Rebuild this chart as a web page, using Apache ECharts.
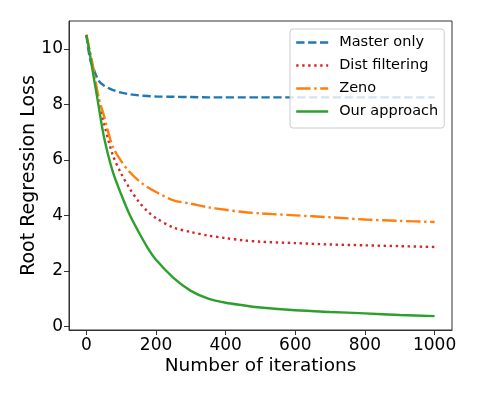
<!doctype html>
<html>
<head>
<meta charset="UTF-8">
<title>Root Regression Loss</title>
<script src="https://cdn.jsdelivr.net/npm/echarts@6/dist/echarts.min.js"></script>
<style>
  html, body { margin: 0; padding: 0; background: #ffffff; }
  #chart { width: 478px; height: 399px; }
</style>
</head>
<body>
<div id="chart"></div>
<script>
var iterations = [0, 10, 20, 35, 50, 75, 100, 125, 150, 175, 200, 250, 300, 350, 400, 450, 500, 600, 700, 800, 900, 1000];

var masterOnly   = [10.5, 9.65, 9.3, 8.85, 8.68, 8.52, 8.42, 8.36, 8.32, 8.3, 8.28, 8.27, 8.26, 8.25, 8.25, 8.25, 8.25, 8.25, 8.25, 8.25, 8.25, 8.25];
var distFilter   = [10.5, 9.85, 9.2, 8.2, 7.35, 6.2, 5.5, 4.95, 4.5, 4.15, 3.9, 3.56, 3.4, 3.27, 3.18, 3.1, 3.05, 3.0, 2.95, 2.92, 2.89, 2.86];
var zeno         = [10.5, 9.9, 9.3, 8.25, 7.6, 6.5, 5.95, 5.55, 5.25, 5.02, 4.84, 4.54, 4.42, 4.29, 4.2, 4.12, 4.07, 4.0, 3.93, 3.85, 3.8, 3.76];
var ourApproach  = [10.5, 9.8, 9.05, 7.95, 6.85, 5.6, 4.75, 4.0, 3.4, 2.85, 2.4, 1.75, 1.28, 1.0, 0.85, 0.76, 0.68, 0.58, 0.52, 0.47, 0.41, 0.37];

var seriesNames = ['Master only', 'Dist filtering', 'Zeno', 'Our approach'];
var xTicks = [0, 200, 400, 600, 800, 1000];
var yTicks = [0, 2, 4, 6, 8, 10];

var FONT = 'DejaVu Sans';
var colors = ['#1f77b4', '#d62728', '#ff7f0e', '#2ca02c'];
var dashes = [[8.3, 3.6], [2.4, 3.6], [14.4, 3.6, 2.4, 3.6], 'solid'];
var values = [masterOnly, distFilter, zeno, ourApproach];

function pairs(ys) {
  var out = [];
  for (var i = 0; i < iterations.length; i++) {
    out.push([iterations[i], ys[i]]);
  }
  return out;
}

var series = [];
for (var s = 0; s < seriesNames.length; s++) {
  series.push({
    name: seriesNames[s],
    type: 'line',
    data: pairs(values[s]),
    smooth: 0.3,
    symbol: 'none',
    lineStyle: { color: colors[s], width: 2.4, type: dashes[s], cap: 'butt' },
    itemStyle: { color: colors[s] },
    z: 2 + s
  });
}

var axisColor = '#333333';

var option = {
  animation: false,
  backgroundColor: '#ffffff',
  grid: {
    left: 69, right: 26, top: 21, bottom: 69,
    show: true, borderColor: axisColor, borderWidth: 1, backgroundColor: 'transparent'
  },
  legend: {
    data: seriesNames,
    orient: 'vertical',
    left: 290, top: 29,
    padding: [6, 6, 9, 5],
    itemWidth: 32, itemHeight: 14, itemGap: 8,
    itemStyle: { opacity: 0 },
    lineStyle: { width: 2.4 },
    backgroundColor: 'rgba(255,255,255,0.8)',
    borderColor: '#cccccc', borderWidth: 1, borderRadius: 3,
    textStyle: { fontFamily: FONT, fontSize: 14.5, lineHeight: 14, height: 14, color: '#000000', padding: [0, 0, 0, 6] }
  },
  xAxis: {
    type: 'value',
    min: -50, max: 1050,
    name: 'Number of iterations',
    nameLocation: 'middle',
    nameGap: 27,
    nameMoveOverlap: false,
    nameTextStyle: { fontFamily: FONT, fontSize: 18.5, color: '#000000' },
    axisLine: { show: true, onZero: false, lineStyle: { color: axisColor, width: 1 } },
    axisTick: { show: true, inside: false, length: 5, lineStyle: { color: axisColor }, customValues: xTicks },
    axisLabel: {
      fontFamily: FONT, fontSize: 17, color: '#000000', margin: 7, customValues: xTicks,
      formatter: function(v) { return String(v); }
    },
    splitLine: { show: false }
  },
  yAxis: {
    type: 'value',
    min: -0.13, max: 11.0,
    name: 'Root Regression Loss',
    nameLocation: 'middle',
    nameGap: 30,
    nameRotate: 90,
    nameMoveOverlap: false,
    nameTextStyle: { fontFamily: FONT, fontSize: 19, color: '#000000' },
    axisLine: { show: true, onZero: false, lineStyle: { color: axisColor, width: 1 } },
    axisTick: { show: true, inside: false, length: 5, lineStyle: { color: axisColor }, customValues: yTicks },
    axisLabel: {
      fontFamily: FONT, fontSize: 17, color: '#000000', margin: 6, customValues: yTicks,
      formatter: function(v) { return String(v); }
    },
    splitLine: { show: false }
  },
  series: series
};

var chart = echarts.init(document.getElementById('chart'), null, { renderer: 'canvas' });
chart.setOption(option);
</script>
</body>
</html>
